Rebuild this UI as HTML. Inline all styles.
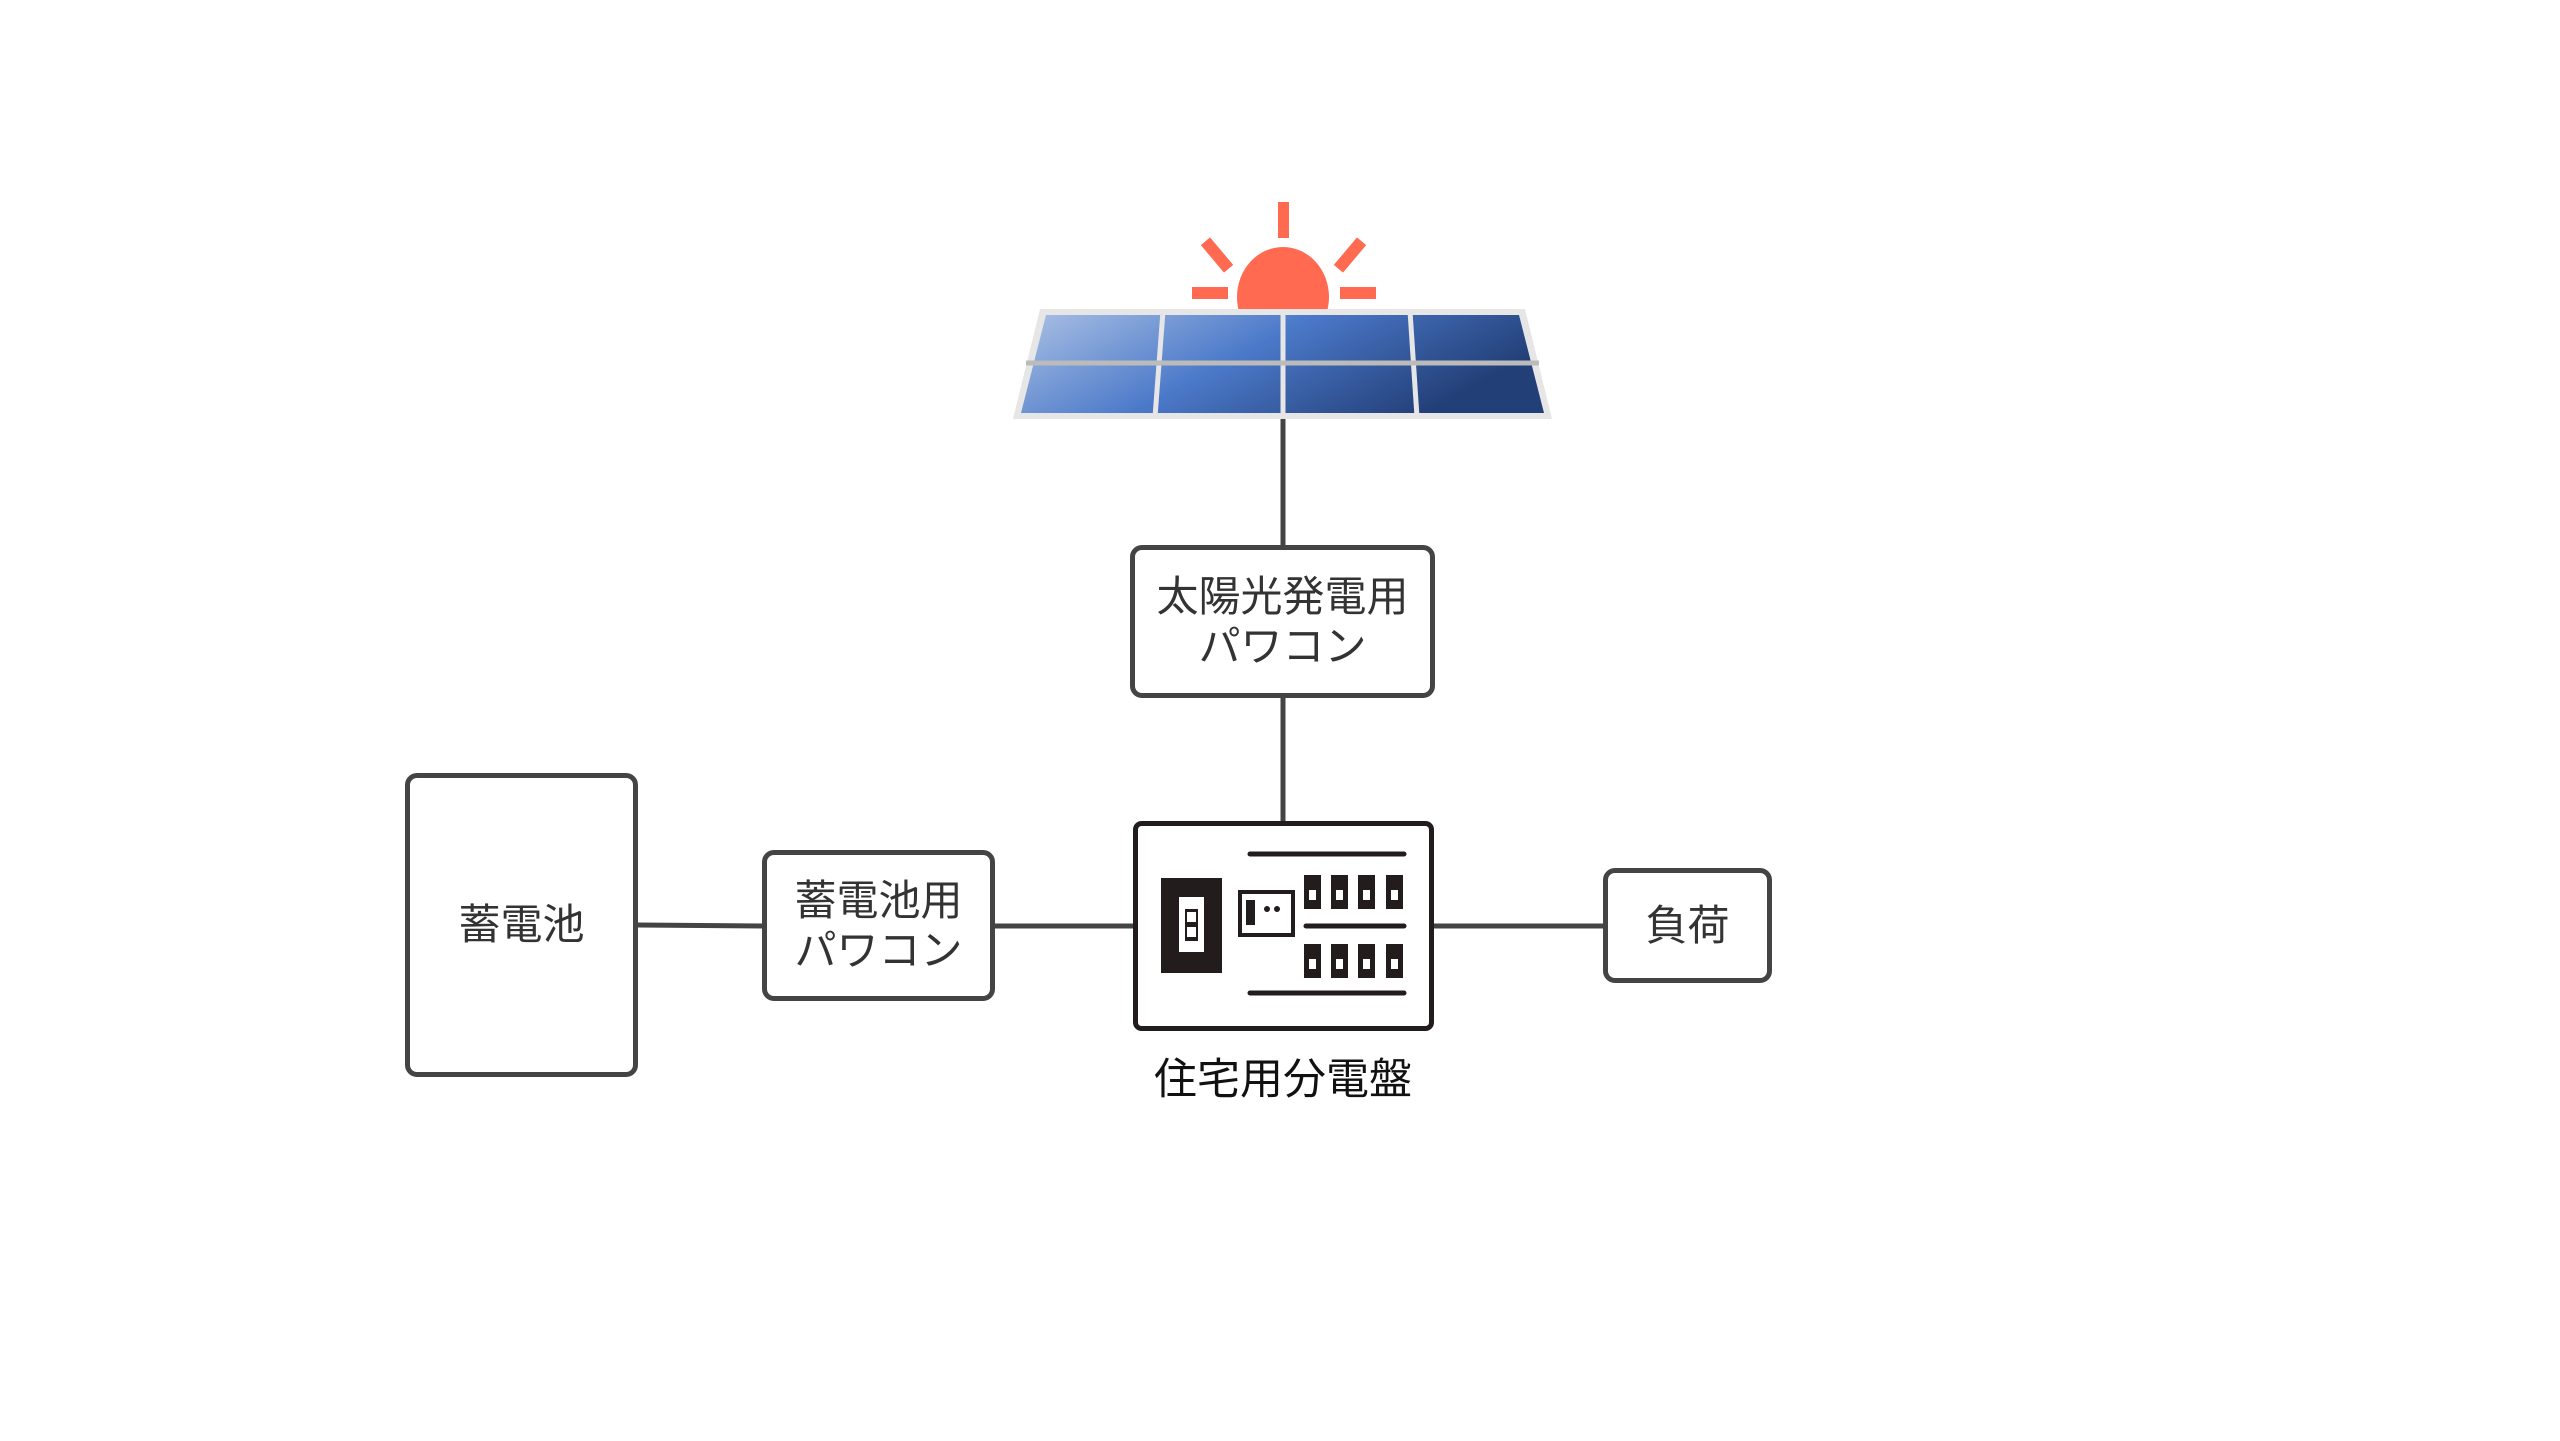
<!DOCTYPE html>
<html><head><meta charset="utf-8"><style>
html,body{margin:0;padding:0;background:#fff;}
body{width:2560px;height:1441px;overflow:hidden;position:relative;font-family:"Liberation Sans","Noto Sans CJK JP",sans-serif;}
#w{position:absolute;left:0;top:0;width:2560px;height:1441px;transform:translate(-4px,-3px);}
.box{position:absolute;box-sizing:border-box;border:5px solid #444;border-radius:12px;background:#fff;display:flex;align-items:center;justify-content:center;text-align:center;color:#333;font-size:42px;line-height:50px;}
</style></head><body><div id="w">
<svg width="2560" height="1441" style="position:absolute;left:0;top:0">
<defs>
<linearGradient id="g" x1="0" y1="0" x2="1" y2="0.35">
<stop offset="0" stop-color="#aac0e4"/><stop offset="0.5" stop-color="#4b79c9"/><stop offset="1" stop-color="#233f78"/>
</linearGradient>
</defs>
<g stroke="#444" stroke-width="5" fill="none">
<line x1="1287" y1="420" x2="1287" y2="548"/>
<line x1="1287" y1="701" x2="1287" y2="824"/>
<line x1="642" y1="928" x2="766" y2="929"/>
<line x1="999" y1="929" x2="1137" y2="929"/>
<line x1="1438" y1="929" x2="1607" y2="929"/>
</g>
<g fill="#ff6a50">
<rect x="1282" y="205" width="11" height="36"/>
<rect x="1196" y="290" width="36" height="12"/>
<rect x="1344" y="290" width="36" height="12"/>
<rect x="1215" y="240" width="12" height="36" transform="rotate(-40 1221 258)"/>
<rect x="1348" y="240" width="12" height="36" transform="rotate(40 1354 258)"/>
<ellipse cx="1287" cy="300" rx="46" ry="50"/>
</g>
<polygon points="1044,312 1529,312 1556,422 1017,422" fill="#e6e6e6"/>
<polygon points="1050,318 1523,318 1548,416 1025,416" fill="url(#g)"/>
<g stroke="#e6e6e6" stroke-width="5">
<line x1="1167" y1="314" x2="1159" y2="420"/>
<line x1="1287" y1="314" x2="1287" y2="420"/>
<line x1="1414" y1="314" x2="1421" y2="420"/>
</g>
<line x1="1030" y1="366" x2="1543" y2="366" stroke="#bbb" stroke-width="5"/>
<rect x="1165" y="881" width="61" height="95" fill="#221c1c"/>
<rect x="1183" y="900" width="25" height="55" fill="#fff"/>
<rect x="1189" y="912" width="13" height="32" fill="#221c1c"/>
<rect x="1191" y="915" width="9" height="10" fill="#fff"/>
<rect x="1191" y="930" width="9" height="10" fill="#fff"/>
<rect x="1244" y="895" width="53" height="43" fill="#fff" stroke="#221c1c" stroke-width="4"/>
<rect x="1250" y="903" width="9" height="25" fill="#221c1c"/>
<circle cx="1271" cy="912" r="3" fill="#221c1c"/><circle cx="1281" cy="912" r="3" fill="#221c1c"/>
<g stroke="#221c1c" stroke-width="5" stroke-linecap="round">
<line x1="1254" y1="857" x2="1408" y2="857"/>
<line x1="1310" y1="929" x2="1408" y2="929"/>
<line x1="1254" y1="996" x2="1408" y2="996"/>
</g>
<g fill="#221c1c">
<rect x="1308" y="878" width="17" height="34"/><rect x="1335" y="878" width="17" height="34"/><rect x="1362" y="878" width="17" height="34"/><rect x="1390" y="878" width="17" height="34"/>
<rect x="1308" y="947" width="17" height="34"/><rect x="1335" y="947" width="17" height="34"/><rect x="1362" y="947" width="17" height="34"/><rect x="1390" y="947" width="17" height="34"/>
</g>
<g fill="#fff">
<rect x="1313" y="893" width="7" height="10"/><rect x="1340" y="893" width="7" height="10"/><rect x="1367" y="893" width="7" height="10"/><rect x="1395" y="893" width="7" height="10"/>
<rect x="1313" y="962" width="7" height="10"/><rect x="1340" y="962" width="7" height="10"/><rect x="1367" y="962" width="7" height="10"/><rect x="1395" y="962" width="7" height="10"/>
</g>
<rect x="1139.5" y="826.5" width="296" height="205" rx="6" fill="none" stroke="#221c1c" stroke-width="5"/>
</svg>
<div class="box" style="left:1134px;top:548px;width:305px;height:153px;">太陽光発電用<br>パワコン</div>
<div class="box" style="left:409px;top:776px;width:233px;height:304px;">蓄電池</div>
<div class="box" style="left:766px;top:853px;width:233px;height:151px;">蓄電池用<br>パワコン</div>
<div class="box" style="left:1607px;top:871px;width:169px;height:115px;">負荷</div>
<div style="position:absolute;left:1087px;top:1056px;width:400px;text-align:center;font-size:43px;line-height:54px;color:#111;">住宅用分電盤</div>
</div></body></html>
